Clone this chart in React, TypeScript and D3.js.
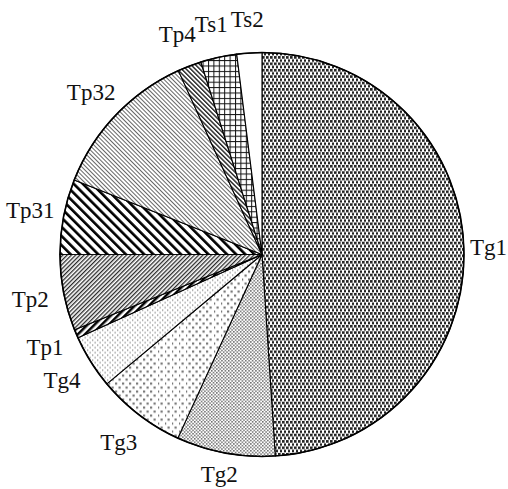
import { useEffect, useRef } from "react";
import * as d3 from "d3";

// slice categories, clockwise from 12 o'clock
const categories = ["Tg1", "Tg2", "Tg3", "Tg4", "Tp1", "Tp2", "Tp31", "Tp32", "Tp4", "Ts1", "Ts2"];
// share of each category (%)
const values = [49.0, 7.9, 7.1, 4.3, 0.7, 6.1, 6.0, 12.2, 1.9, 2.9, 2.0];

export default function App() {
    const svgRef = useRef<SVGSVGElement | null>(null);

    useEffect(() => {
        if (!svgRef.current) return;
        document.body.style.margin = "0";

        const width = 508;
        const height = 489;
        const cx = 262;
        const cy = 254.5;
        const radius = 202;

        const root = d3.select(svgRef.current);
        root.selectAll("*").remove();
        root.attr("width", width).attr("height", height);

        const defs = root.append("defs");

        // fill patterns, one per slice
        const dots = (id: string, w: number, h: number, s: number, color: string) => {
            const p = defs.append("pattern").attr("id", id)
                .attr("patternUnits", "userSpaceOnUse")
                .attr("width", w).attr("height", h);
            p.append("rect").attr("width", w).attr("height", h).attr("fill", "#fff");
            p.append("rect").attr("x", 0).attr("y", 0).attr("width", s).attr("height", s).attr("fill", color);
            p.append("rect").attr("x", w / 2).attr("y", h / 2).attr("width", s).attr("height", s).attr("fill", color);
        };
        const lines = (id: string, gap: number, lw: number, angle: number, color: string) => {
            const p = defs.append("pattern").attr("id", id)
                .attr("patternUnits", "userSpaceOnUse")
                .attr("width", gap).attr("height", gap)
                .attr("patternTransform", `rotate(${angle})`);
            p.append("rect").attr("width", gap).attr("height", gap).attr("fill", "#fff");
            p.append("rect").attr("x", 0).attr("y", 0).attr("width", lw).attr("height", gap).attr("fill", color);
        };

        dots("p-tg1", 4, 6.4, 2.6, "#222");
        dots("p-tg2", 3.4, 3.4, 1.5, "#6a6a6a");
        dots("p-tg3", 7, 8, 2.2, "#7a7a7a");
        dots("p-tg4", 5, 5, 1.3, "#888");
        lines("p-tp1", 5, 2.5, 45, "#000");
        lines("p-tp2", 3, 1.3, 45, "#2a2a2a");
        lines("p-tp31", 6.5, 2.6, -45, "#000");
        lines("p-tp32", 3, 0.9, -45, "#555");
        lines("p-tp4", 3.2, 1.4, -45, "#222");

        const grid = defs.append("pattern").attr("id", "p-ts1")
            .attr("patternUnits", "userSpaceOnUse")
            .attr("width", 5.4).attr("height", 5.4);
        grid.append("rect").attr("width", 5.4).attr("height", 5.4).attr("fill", "#fff");
        grid.append("rect").attr("width", 5.4).attr("height", 1).attr("fill", "#111");
        grid.append("rect").attr("width", 1).attr("height", 5.4).attr("fill", "#111");

        const fills = [
            "url(#p-tg1)", "url(#p-tg2)", "url(#p-tg3)", "url(#p-tg4)", "url(#p-tp1)",
            "url(#p-tp2)", "url(#p-tp31)", "url(#p-tp32)", "url(#p-tp4)", "url(#p-ts1)", "#fff",
        ];

        const data = categories.map((c, i) => ({ name: c, value: values[i], fill: fills[i] }));

        const pie = d3.pie<{ name: string; value: number; fill: string }>()
            .sort(null)
            .value((d) => d.value);
        const arcs = pie(data);

        const arc = d3.arc<d3.PieArcDatum<{ name: string; value: number; fill: string }>>()
            .innerRadius(0)
            .outerRadius(radius);

        const svg = root.append("g").attr("transform", `translate(${cx},${cy})`);

        svg.selectAll(".slice")
            .data(arcs)
            .enter()
            .append("path")
            .attr("class", "slice")
            .attr("d", arc)
            .attr("fill", (d) => d.data.fill)
            .attr("stroke", "#000")
            .attr("stroke-width", 1.1)
            .attr("stroke-linejoin", "round");

        svg.append("circle")
            .attr("r", radius)
            .attr("fill", "none")
            .attr("stroke", "#000")
            .attr("stroke-width", 1.6);

        // labels: centred on the mid-angle, kept inside the frame
        const labelR = radius + 34;
        const labels = svg.selectAll(".label")
            .data(arcs)
            .enter()
            .append("text")
            .attr("class", "label")
            .attr("text-anchor", "middle")
            .attr("dy", "0.35em")
            .attr("font-family", "'Liberation Serif', 'DejaVu Serif', serif")
            .attr("font-size", "23px")
            .attr("fill", "#111")
            .text((d) => d.data.name);

        labels.each(function (d) {
            const a = (d.startAngle + d.endAngle) / 2;
            const hw = (this as SVGTextElement).getComputedTextLength() / 2;
            let x = labelR * Math.sin(a);
            let y = -labelR * Math.cos(a);
            x = Math.min(x, width - cx - hw - 1);
            y = Math.min(y, height - cy - 15);
            d3.select(this).attr("x", x).attr("y", y);
        });
    }, []);

    return <svg ref={svgRef} style={{ display: "block" }} />;
}
